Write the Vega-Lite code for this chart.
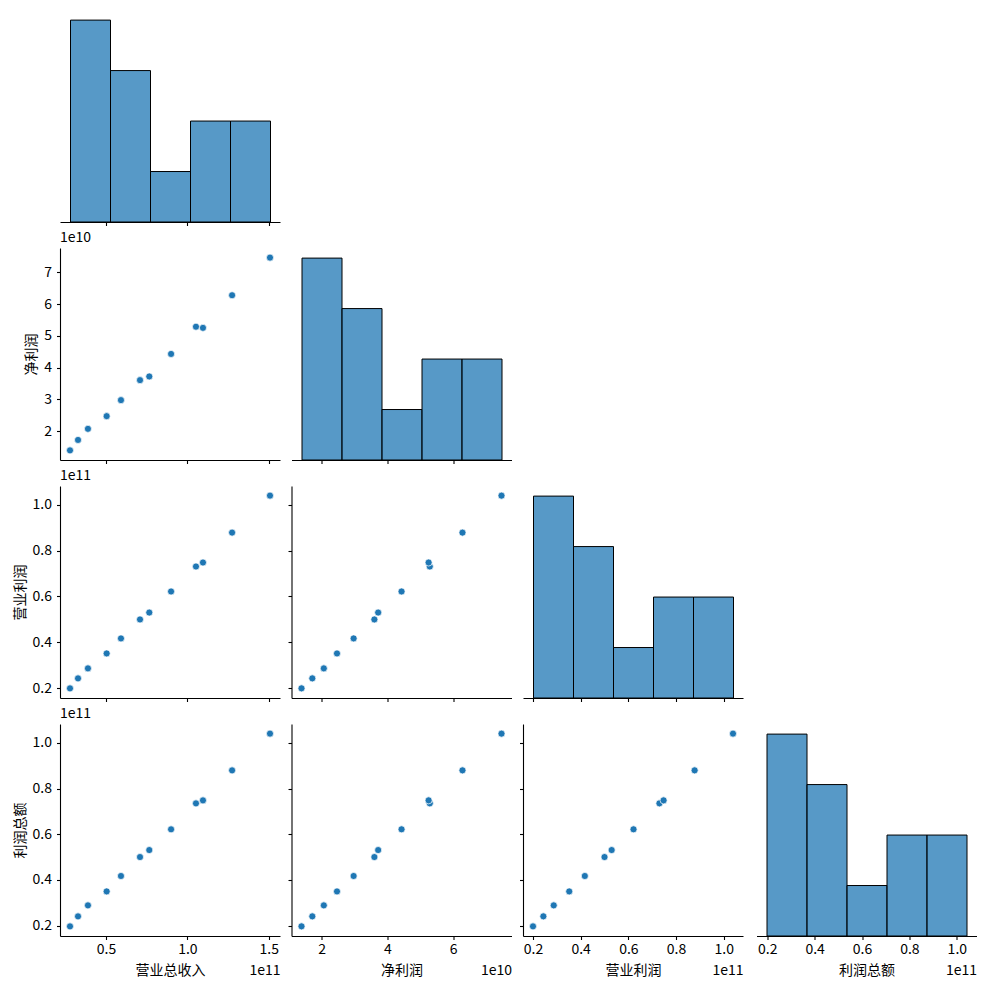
{
  "$schema": "https://vega.github.io/schema/vega-lite/v6.json",
  "padding": {"left": 13, "top": 10, "right": 5, "bottom": 5},
  "background": "#ffffff",
  "data": {"values": [
    {"营业总收入": 27870000000, "净利润": 13920000000, "营业利润": 20000000000, "利润总额": 19700000000},
    {"营业总收入": 32800000000, "净利润": 17200000000, "营业利润": 24350000000, "利润总额": 24080000000},
    {"营业总收入": 38900000000, "净利润": 20700000000, "营业利润": 28700000000, "利润总额": 28890000000},
    {"营业总收入": 50400000000, "净利润": 24700000000, "营业利润": 35200000000, "利润总额": 35000000000},
    {"营业总收入": 59200000000, "净利润": 29750000000, "营业利润": 41740000000, "利润总额": 41750000000},
    {"营业总收入": 70900000000, "净利润": 36050000000, "营业利润": 50000000000, "利润总额": 50050000000},
    {"营业总收入": 76600000000, "净利润": 37200000000, "营业利润": 53000000000, "利润总额": 53110000000},
    {"营业总收入": 90000000000, "净利润": 44300000000, "营业利润": 62170000000, "利润总额": 62180000000},
    {"营业总收入": 105300000000, "净利润": 52880000000, "营业利润": 73040000000, "利润总额": 73550000000},
    {"营业总收入": 109600000000, "净利润": 52520000000, "营业利润": 74780000000, "利润总额": 74860000000},
    {"营业总收入": 127500000000, "净利润": 62800000000, "营业利润": 87800000000, "利润总额": 88000000000},
    {"营业总收入": 150800000000, "净利润": 74650000000, "营业利润": 103900000000, "利润总额": 104080000000}
  ]},
  "columns": 4,
  "spacing": {"row": 4, "column": 6.5},
  "concat": [
    {
      "width": 220, "height": 212,
      "mark": {"type": "bar", "fill": "#1f77b4", "fillOpacity": 0.75, "stroke": "#000000", "strokeWidth": 1, "binSpacing": 0},
      "encoding": {
        "x": {"field": "营业总收入", "type": "quantitative", "bin": {"extent": [27870000000, 150800000000], "step": 24586000000, "nice": false},
              "scale": {"domain": [21723500000, 156946500000], "nice": false, "zero": false},
              "axis": {"values": [50000000000, 100000000000, 150000000000], "labels": false, "title": null}},
        "y": {"aggregate": "count", "type": "quantitative", "scale": {"domain": [0, 4.2], "nice": false}, "axis": null}
      }
    },
    {"width": 220, "height": 212, "data": {"values": []}, "mark": {"type": "point", "opacity": 0}},
    {"width": 220, "height": 212, "data": {"values": []}, "mark": {"type": "point", "opacity": 0}},
    {"width": 220, "height": 212, "data": {"values": []}, "mark": {"type": "point", "opacity": 0}},

    {
      "title": {"text": "1e10"},
      "width": 220, "height": 212,
      "mark": {"type": "point", "filled": true, "fill": "#1f77b4", "stroke": "#ffffff", "strokeWidth": 0.7, "size": 50, "opacity": 1},
      "encoding": {
        "x": {"field": "营业总收入", "type": "quantitative", "scale": {"domain": [21723500000, 156946500000], "nice": false, "zero": false},
              "axis": {"values": [50000000000, 100000000000, 150000000000], "labels": false, "title": null}},
        "y": {"field": "净利润", "type": "quantitative", "scale": {"domain": [10883500000, 77686500000], "nice": false, "zero": false},
              "axis": {"values": [20000000000, 30000000000, 40000000000, 50000000000, 60000000000, 70000000000], "labelExpr": "format(datum.value / 1e10, '.0f')", "title": "净利润"}}
      }
    },
    {
      "width": 220, "height": 212,
      "mark": {"type": "bar", "fill": "#1f77b4", "fillOpacity": 0.75, "stroke": "#000000", "strokeWidth": 1, "binSpacing": 0},
      "encoding": {
        "x": {"field": "净利润", "type": "quantitative", "bin": {"extent": [13920000000, 74650000000], "step": 12146000000, "nice": false},
              "scale": {"domain": [10883500000, 77686500000], "nice": false, "zero": false},
              "axis": {"values": [20000000000, 40000000000, 60000000000], "labels": false, "title": null}},
        "y": {"aggregate": "count", "type": "quantitative", "scale": {"domain": [0, 4.2], "nice": false}, "axis": null}
      }
    },
    {"width": 220, "height": 212, "data": {"values": []}, "mark": {"type": "point", "opacity": 0}},
    {"width": 220, "height": 212, "data": {"values": []}, "mark": {"type": "point", "opacity": 0}},

    {
      "title": {"text": "1e11"},
      "width": 220, "height": 212,
      "mark": {"type": "point", "filled": true, "fill": "#1f77b4", "stroke": "#ffffff", "strokeWidth": 0.7, "size": 50, "opacity": 1},
      "encoding": {
        "x": {"field": "营业总收入", "type": "quantitative", "scale": {"domain": [21723500000, 156946500000], "nice": false, "zero": false},
              "axis": {"values": [50000000000, 100000000000, 150000000000], "labels": false, "title": null}},
        "y": {"field": "营业利润", "type": "quantitative", "scale": {"domain": [15805000000, 108095000000], "nice": false, "zero": false},
              "axis": {"values": [20000000000, 40000000000, 60000000000, 80000000000, 100000000000], "labelExpr": "format(datum.value / 1e11, '.1f')", "title": "营业利润"}}
      }
    },
    {
      "width": 220, "height": 212,
      "mark": {"type": "point", "filled": true, "fill": "#1f77b4", "stroke": "#ffffff", "strokeWidth": 0.7, "size": 50, "opacity": 1},
      "encoding": {
        "x": {"field": "净利润", "type": "quantitative", "scale": {"domain": [10883500000, 77686500000], "nice": false, "zero": false},
              "axis": {"values": [20000000000, 40000000000, 60000000000], "labels": false, "title": null}},
        "y": {"field": "营业利润", "type": "quantitative", "scale": {"domain": [15805000000, 108095000000], "nice": false, "zero": false},
              "axis": {"values": [20000000000, 40000000000, 60000000000, 80000000000, 100000000000], "labels": false, "title": null}}
      }
    },
    {
      "width": 220, "height": 212,
      "mark": {"type": "bar", "fill": "#1f77b4", "fillOpacity": 0.75, "stroke": "#000000", "strokeWidth": 1, "binSpacing": 0},
      "encoding": {
        "x": {"field": "营业利润", "type": "quantitative", "bin": {"extent": [20000000000, 103900000000], "step": 16780000000, "nice": false},
              "scale": {"domain": [15805000000, 108095000000], "nice": false, "zero": false},
              "axis": {"values": [20000000000, 40000000000, 60000000000, 80000000000, 100000000000], "labels": false, "title": null}},
        "y": {"aggregate": "count", "type": "quantitative", "scale": {"domain": [0, 4.2], "nice": false}, "axis": null}
      }
    },
    {"width": 220, "height": 212, "data": {"values": []}, "mark": {"type": "point", "opacity": 0}},

    {
      "title": {"text": "1e11"},
      "width": 220, "height": 212,
      "layer": [
        {
          "mark": {"type": "point", "filled": true, "fill": "#1f77b4", "stroke": "#ffffff", "strokeWidth": 0.7, "size": 50, "opacity": 1},
          "encoding": {
            "x": {"field": "营业总收入", "type": "quantitative", "scale": {"domain": [21723500000, 156946500000], "nice": false, "zero": false},
                  "axis": {"values": [50000000000, 100000000000, 150000000000], "labelExpr": "format(datum.value / 1e11, '.1f')", "title": "营业总收入", "titleY": 27, "titleBaseline": "top"}},
            "y": {"field": "利润总额", "type": "quantitative", "scale": {"domain": [15481000000, 108299000000], "nice": false, "zero": false},
                  "axis": {"values": [20000000000, 40000000000, 60000000000, 80000000000, 100000000000], "labelExpr": "format(datum.value / 1e11, '.1f')", "title": "利润总额"}}
          }
        },
        {
          "mark": {"type": "point", "opacity": 0},
          "encoding": {
            "x": {"field": "营业总收入", "type": "quantitative", "scale": {"domain": [21723500000, 156946500000], "nice": false, "zero": false},
                  "axis": {"orient": "bottom", "title": "1e11", "labels": false, "ticks": false, "domain": false, "titleX": 220, "titleY": 27, "titleAlign": "right", "titleBaseline": "top"}}
          }
        }
      ],
      "resolve": {"scale": {"x": "independent"}}
    },
    {
      "width": 220, "height": 212,
      "layer": [
        {
          "mark": {"type": "point", "filled": true, "fill": "#1f77b4", "stroke": "#ffffff", "strokeWidth": 0.7, "size": 50, "opacity": 1},
          "encoding": {
            "x": {"field": "净利润", "type": "quantitative", "scale": {"domain": [10883500000, 77686500000], "nice": false, "zero": false},
                  "axis": {"values": [20000000000, 40000000000, 60000000000], "labelExpr": "format(datum.value / 1e10, '.0f')", "title": "净利润", "titleY": 27, "titleBaseline": "top"}},
            "y": {"field": "利润总额", "type": "quantitative", "scale": {"domain": [15481000000, 108299000000], "nice": false, "zero": false},
                  "axis": {"values": [20000000000, 40000000000, 60000000000, 80000000000, 100000000000], "labels": false, "title": null}}
          }
        },
        {
          "mark": {"type": "point", "opacity": 0},
          "encoding": {
            "x": {"field": "净利润", "type": "quantitative", "scale": {"domain": [10883500000, 77686500000], "nice": false, "zero": false},
                  "axis": {"orient": "bottom", "title": "1e10", "labels": false, "ticks": false, "domain": false, "titleX": 220, "titleY": 27, "titleAlign": "right", "titleBaseline": "top"}}
          }
        }
      ],
      "resolve": {"scale": {"x": "independent"}}
    },
    {
      "width": 220, "height": 212,
      "layer": [
        {
          "mark": {"type": "point", "filled": true, "fill": "#1f77b4", "stroke": "#ffffff", "strokeWidth": 0.7, "size": 50, "opacity": 1},
          "encoding": {
            "x": {"field": "营业利润", "type": "quantitative", "scale": {"domain": [15805000000, 108095000000], "nice": false, "zero": false},
                  "axis": {"values": [20000000000, 40000000000, 60000000000, 80000000000, 100000000000], "labelExpr": "format(datum.value / 1e11, '.1f')", "title": "营业利润", "titleY": 27, "titleBaseline": "top"}},
            "y": {"field": "利润总额", "type": "quantitative", "scale": {"domain": [15481000000, 108299000000], "nice": false, "zero": false},
                  "axis": {"values": [20000000000, 40000000000, 60000000000, 80000000000, 100000000000], "labels": false, "title": null}}
          }
        },
        {
          "mark": {"type": "point", "opacity": 0},
          "encoding": {
            "x": {"field": "营业利润", "type": "quantitative", "scale": {"domain": [15805000000, 108095000000], "nice": false, "zero": false},
                  "axis": {"orient": "bottom", "title": "1e11", "labels": false, "ticks": false, "domain": false, "titleX": 220, "titleY": 27, "titleAlign": "right", "titleBaseline": "top"}}
          }
        }
      ],
      "resolve": {"scale": {"x": "independent"}}
    },
    {
      "width": 220, "height": 212,
      "layer": [
        {
          "mark": {"type": "bar", "fill": "#1f77b4", "fillOpacity": 0.75, "stroke": "#000000", "strokeWidth": 1, "binSpacing": 0},
          "encoding": {
            "x": {"field": "利润总额", "type": "quantitative", "bin": {"extent": [19700000000, 104080000000], "step": 16876000000, "nice": false},
                  "scale": {"domain": [15481000000, 108299000000], "nice": false, "zero": false},
                  "axis": {"values": [20000000000, 40000000000, 60000000000, 80000000000, 100000000000], "labelExpr": "format(datum.value / 1e11, '.1f')", "title": "利润总额", "titleY": 27, "titleBaseline": "top"}},
            "y": {"aggregate": "count", "type": "quantitative", "scale": {"domain": [0, 4.2], "nice": false},
                  "axis": {"values": [1, 2, 3, 4], "labels": false, "domain": false, "ticks": true, "tickColor": "#ffffff", "tickSize": 5.5, "title": null}}
          }
        },
        {
          "mark": {"type": "point", "opacity": 0},
          "encoding": {
            "x": {"field": "利润总额", "type": "quantitative", "scale": {"domain": [15481000000, 108299000000], "nice": false, "zero": false},
                  "axis": {"orient": "bottom", "title": "1e11", "labels": false, "ticks": false, "domain": false, "titleX": 220, "titleY": 27, "titleAlign": "right", "titleBaseline": "top"}}
          }
        }
      ],
      "resolve": {"scale": {"x": "independent"}}
    }
  ],
  "config": {
    "view": {"stroke": null},
    "axis": {
      "grid": false,
      "domainColor": "#000000", "domainWidth": 1.1,
      "tickColor": "#000000", "tickWidth": 1.1, "tickSize": 3.5,
      "labelColor": "#000000", "labelFont": "Noto Sans CJK SC", "labelFontSize": 14, "labelPadding": 3, "labelOverlap": false,
      "titleColor": "#000000", "titleFont": "Noto Sans CJK SC", "titleFontSize": 14, "titleFontWeight": "normal", "titlePadding": 5
    },
    "axisY": {"labelPadding": 5},
    "title": {"font": "Noto Sans CJK SC", "fontSize": 14, "fontWeight": "normal", "color": "#000000", "anchor": "start", "frame": "group", "offset": 3}
  }
}
